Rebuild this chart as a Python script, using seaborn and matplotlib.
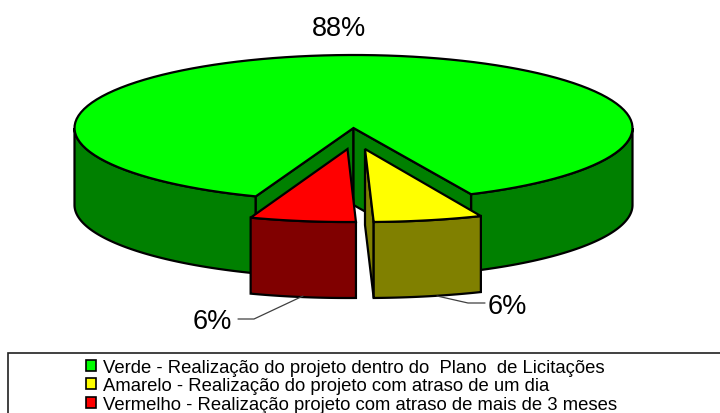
import numpy as np
import matplotlib.pyplot as plt
from matplotlib.patches import Rectangle
import seaborn as sns

# values
labels = ['Verde - Realização do projeto dentro do  Plano  de Licitações',
          'Amarelo - Realização do projeto com atraso de um dia',
          'Vermelho - Realização projeto com atraso de mais de 3 meses']
values = [88, 6, 6]
pct_labels = ['88%', '6%', '6%']
top_colors = ['#00ff00', '#ffff00', '#ff0000']
side_colors = ['#008000', '#808000', '#800000']

sns.set_theme(style='white')
plt.rcParams['font.family'] = ['Liberation Sans', 'DejaVu Sans']

CX, CY, RX, RY = 353.5, 129, 279, 73
DEPTH = 77
START = -19.9
GAP = 0.6


def rim(a, b, cx=CX, cy=CY, rx=RX, ry=RY, n=120):
    t = np.radians(np.linspace(a, b, n))
    return cx + rx * np.sin(t), cy + ry * np.cos(t)


def side(ax, a, b, color, cx=CX, cy=CY, rx=RX, ry=RY, d=DEPTH):
    x, y = rim(a, b, cx, cy, rx, ry)
    ax.fill(np.r_[x, x[::-1]], np.r_[y, y[::-1] + d], fc=color, ec='black', lw=1.6, joinstyle='miter')


def wall(ax, p, q, color, d=DEPTH):
    xs = [p[0], q[0], q[0], p[0]]
    ys = [p[1], q[1], q[1] + d, p[1] + d]
    ax.fill(xs, ys, fc=color, ec='black', lw=1.6, joinstyle='miter')


def top(ax, a, b, color, cx=CX, cy=CY, rx=RX, ry=RY):
    x, y = rim(a, b, cx, cy, rx, ry)
    ax.fill(np.r_[cx, x], np.r_[cy, y], fc=color, ec='black', lw=1.6, joinstyle='miter')


fig = plt.figure(figsize=(7.2, 4.14), dpi=100)
ax = fig.add_axes([0, 0, 1, 1])
ax.set_xlim(0, 720)
ax.set_ylim(414, 0)
ax.axis('off')

# slice angles, clockwise from the front of the pie
red_a, yel_a = START, START + values[2] * 3.6
grn_a = yel_a + values[1] * 3.6 + GAP * 2.7
grn_b = START + 360 - GAP

# green body with its notch
side(ax, grn_a, 90, side_colors[0])
side(ax, 270, grn_b, side_colors[0])
xa, ya = rim(grn_a, grn_a, n=1)
xb, yb = rim(grn_b, grn_b, n=1)
wall(ax, (CX, CY), (xb[0], yb[0]), side_colors[0])
wall(ax, (CX, CY), (xa[0], ya[0]), side_colors[0])
top(ax, grn_a, grn_b, top_colors[0])

# exploded red slice
rx0, ry0 = 347.5, 150
side(ax, red_a, yel_a, side_colors[2], rx0, ry0, RX * 1.02, RY, 76)
top(ax, red_a, yel_a, top_colors[2], rx0, ry0, RX * 1.02, RY)

# exploded yellow slice
yx0, yy0 = 365, 150
x1, y1 = rim(yel_a, yel_a, yx0, yy0, RX * 1.05, RY, n=1)
wall(ax, (yx0, yy0), (x1[0], y1[0]), side_colors[1], 76)
side(ax, yel_a, yel_a + values[1] * 3.6, side_colors[1], yx0, yy0, RX * 1.05, RY, 76)
top(ax, yel_a, yel_a + values[1] * 3.6, top_colors[1], yx0, yy0, RX * 1.05, RY)

# percentage labels and leader lines
ax.plot([238, 254, 303], [320, 320, 297], color='#404040', lw=0.9)
ax.plot([437, 468, 485], [297, 304, 304], color='#404040', lw=0.9)
ax.text(339, 28.5, pct_labels[0], fontsize=19.5, color='black', ha='center', va='center')
ax.text(507.5, 307, pct_labels[1], fontsize=19.5, color='black', ha='center', va='center')
ax.text(212.5, 322, pct_labels[2], fontsize=19.5, color='black', ha='center', va='center')

# legend box runs off the right and bottom edges
ax.add_patch(Rectangle((8, 354), 730, 80, fc='white', ec='#202020', lw=1.2, clip_on=True))
handles = [Rectangle((0, 0), 1, 1, fc=c, ec='black', lw=1.2) for c in top_colors]
leg = ax.legend(handles, labels, loc='upper left', bbox_to_anchor=(82, 356), bbox_transform=ax.transData,
                frameon=False, fontsize=13.3, handlelength=0.55, handleheight=0.55, handletextpad=0.4,
                labelspacing=0.08, borderpad=0.2, borderaxespad=0)
for t in leg.get_texts():
    t.set_color('black')

fig.savefig('out.png', dpi=100)
